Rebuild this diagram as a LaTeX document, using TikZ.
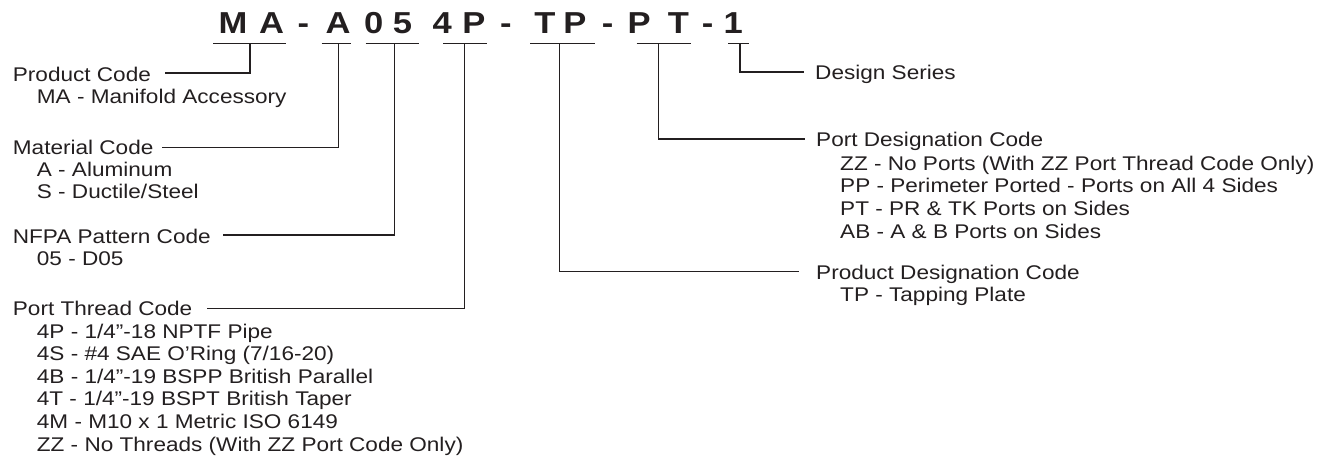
\documentclass[tikz,border=0pt]{standalone}
\usepackage{fontspec}
\setmainfont[FakeStretch=1.14]{Liberation Sans}
\definecolor{ink}{HTML}{231F20}
\begin{document}
\begin{tikzpicture}[x=1bp,y=-1bp,
  lbl/.style={anchor=base west, inner sep=0pt, text=ink, font=\fontsize{19.8bp}{22.6bp}\selectfont},
  ttl/.style={anchor=base, inner sep=0pt, text=ink, font=\fontsize{30.3bp}{36bp}\selectfont\bfseries},
  con/.style={draw=ink, line width=1.2bp},
  bar/.style={draw=ink, line width=1.3bp}]
\useasboundingbox (0,0) rectangle (1323,465);

% title letters
\foreach \ch/\x [count=\i] in {M/232.9, A/271.7, -/303.3, A/338, 0/373.8, 5/402.5, 4/442.3, P/473.8, -/505.8, T/545, P/575, -/607.5, P/639.2, T/678.3, -/707.5, 1/733.3}
  \node[ttl] (t\i) at (\x,33.3) {\ch};

% underline bars
\coordinate (bMAl) at (213,43.3);   \coordinate (bMAr) at (286,43.3);   \coordinate (bMA) at (250,43.3);
\coordinate (bAl)  at (321.7,43.3); \coordinate (bAr)  at (351,43.3);   \coordinate (bA)  at (338.3,43.3);
\coordinate (bNFl) at (365.7,43.3); \coordinate (bNFr) at (419,43.3);   \coordinate (bNF) at (394.3,43.3);
\coordinate (bPTl) at (443,43.3);   \coordinate (bPTr) at (486.7,43.3); \coordinate (bPT) at (464.3,43.3);
\coordinate (bTPl) at (530,43.3);   \coordinate (bTPr) at (595,43.3);   \coordinate (bTP) at (559.3,43.3);
\coordinate (bPDl) at (636.7,43.3); \coordinate (bPDr) at (691,43.3);   \coordinate (bPD) at (658.3,43.3);
\coordinate (bDSl) at (728.3,43.3); \coordinate (bDSr) at (749.3,43.3); \coordinate (bDS) at (740,43.3);
\foreach \b in {MA,A,NF,PT,TP,PD,DS}
  \draw[bar] (b\b l) -- (b\b r);

% left texts
\node[lbl] (pc)  at (12.7,81.7) {Product Code};
\node[lbl] (pc1) at (36.7,103.3) {MA - Manifold Accessory};
\node[lbl] (mc)  at (12.7,155) {Material Code};
\node[lbl] (mc1) at (36.7,177) {A - Aluminum};
\node[lbl] (mc2) at (36.7,199) {S - Ductile/Steel};
\node[lbl] (nf)  at (12.7,244) {NFPA Pattern Code};
\node[lbl] (nf1) at (36.7,265.5) {05 - D05};
\node[lbl] (pt)  at (12.7,316) {Port Thread Code};
\node[lbl] (pt1) at (36.7,338) {4P - 1/4”-18 NPTF Pipe};
\node[lbl] (pt2) at (36.7,360.6) {4S - \#4 SAE O’Ring (7/16-20)};
\node[lbl] (pt3) at (36.7,383.2) {4B - 1/4”-19 BSPP British Parallel};
\node[lbl] (pt4) at (36.7,405.8) {4T - 1/4”-19 BSPT British Taper};
\node[lbl] (pt5) at (36.7,428.4) {4M - M10 x 1 Metric ISO 6149};
\node[lbl] (pt6) at (36.7,451) {ZZ - No Threads (With ZZ Port Code Only)};

% right texts
\node[lbl] (ds)  at (815,80) {Design Series};
\node[lbl] (pd)  at (816,146.5) {Port Designation Code};
\node[lbl] (pd1) at (840,170.5) {ZZ - No Ports (With ZZ Port Thread Code Only)};
\node[lbl] (pd2) at (840,193) {PP - Perimeter Ported - Ports on All 4 Sides};
\node[lbl] (pd3) at (840,215.6) {PT - PR \& TK Ports on Sides};
\node[lbl] (pd4) at (840,238.2) {AB - A \& B Ports on Sides};
\node[lbl] (prd)  at (816,280) {Product Designation Code};
\node[lbl] (prd1) at (840,302) {TP - Tapping Plate};

% connector ends
\coordinate (pcE)  at (165,73);
\coordinate (mcE)  at (162,147.7);
\coordinate (nfE)  at (223,235);
\coordinate (ptE)  at (206.7,308.3);
\coordinate (dsW)  at (804,72);
\coordinate (pdW)  at (805,139);
\coordinate (prdW) at (799,271.7);

\draw[con] (bMA) |- (pcE);
\draw[con] (bA)  |- (mcE);
\draw[con] (bNF) |- (nfE);
\draw[con] (bPT) |- (ptE);
\draw[con] (bDS) |- (dsW);
\draw[con] (bPD) |- (pdW);
\draw[con] (bTP) |- (prdW);
\end{tikzpicture}
\end{document}
